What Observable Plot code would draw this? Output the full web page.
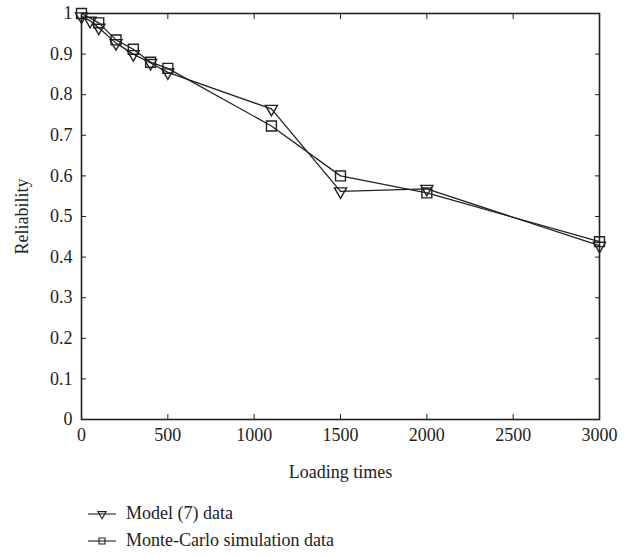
<!DOCTYPE html>
<html>
<head>
<meta charset="utf-8">
<script src="https://cdn.jsdelivr.net/npm/d3@7"></script>
<script src="https://cdn.jsdelivr.net/npm/@observablehq/plot@0.6"></script>
<style>
  body { margin: 0; background: #fff; }
  #wrap { position: relative; width: 633px; height: 557px; font-family: "Liberation Serif", "DejaVu Serif", serif; color: #222; }
  #chart svg { overflow: visible; }
  #chart svg text { font-family: "Liberation Serif", "DejaVu Serif", serif; font-size: 18px; fill: #222; }
  #legend { position: absolute; left: 88px; top: 500px; font-size: 18px; line-height: 27px; }
  .row { display: flex; align-items: center; height: 27px; }
  .row svg { margin-right: 10px; }
</style>
</head>
<body>
<div id="wrap">
  <div id="chart"></div>
  <div id="legend"></div>
</div>
<script>
// Data
const modelLoading = [0, 50, 100, 200, 300, 400, 500, 1100, 1500, 2000, 3000];
const modelReliability = [0.993, 0.982, 0.965, 0.927, 0.900, 0.878, 0.855, 0.765, 0.562, 0.568, 0.428];
const mcLoading = [0, 100, 200, 300, 400, 500, 1100, 1500, 2000, 3000];
const mcReliability = [1.0, 0.977, 0.935, 0.912, 0.880, 0.865, 0.723, 0.600, 0.558, 0.438];
const xTicks = [0, 500, 1000, 1500, 2000, 2500, 3000];
const yTicks = [0, 0.1, 0.2, 0.3, 0.4, 0.5, 0.6, 0.7, 0.8, 0.9, 1];
const seriesNames = ["Model (7) data", "Monte-Carlo simulation data"];

const model = modelLoading.map((x, i) => ({x, y: modelReliability[i]}));
const mc = mcLoading.map((x, i) => ({x, y: mcReliability[i]}));

const ink = "#222";
const blank = () => "";

const chart = Plot.plot({
  width: 633,
  height: 490,
  marginLeft: 81,
  marginRight: 34,
  marginTop: 13,
  marginBottom: 71,
  style: {fontFamily: "Liberation Serif, DejaVu Serif, serif", fontSize: "18px", color: ink, background: "#fff", overflow: "visible"},
  x: {domain: [0, 3000]},
  y: {domain: [0, 1]},
  marks: [
    // inward ticks on all four sides
    Plot.axisX(xTicks, {anchor: "bottom", tickSize: -5, tickFormat: blank, label: null, stroke: ink}),
    Plot.axisX(xTicks, {anchor: "top", tickSize: -5, tickFormat: blank, label: null, stroke: ink}),
    Plot.axisY(yTicks, {anchor: "left", tickSize: -5, tickFormat: blank, label: null, stroke: ink}),
    Plot.axisY(yTicks, {anchor: "right", tickSize: -5, tickFormat: blank, label: null, stroke: ink}),
    // tick labels and axis titles
    Plot.axisX(xTicks, {anchor: "bottom", tickSize: 0, tickPadding: 9, fontSize: 18, tickFormat: d => String(d), label: "Loading times", labelAnchor: "center", labelArrow: "none", labelOffset: 58}),
    Plot.axisY(yTicks, {anchor: "left", tickSize: 0, tickPadding: 9, fontSize: 18, tickFormat: d => String(d), label: "Reliability", labelAnchor: "center", labelArrow: "none", labelOffset: 66}),
    Plot.frame({stroke: ink, strokeWidth: 1.6}),
    // series
    Plot.line(model, {x: "x", y: "y", stroke: ink, strokeWidth: 1.3}),
    Plot.line(mc, {x: "x", y: "y", stroke: ink, strokeWidth: 1.3}),
    Plot.dot(model, {x: "x", y: "y", symbol: "triangle", rotate: 180, r: 4.5, stroke: ink, strokeWidth: 1.4, fill: "none"}),
    Plot.dot(mc, {x: "x", y: "y", symbol: "square", r: 5.6, stroke: ink, strokeWidth: 1.4, fill: "none"})
  ]
});
document.getElementById("chart").appendChild(chart);

// legend
const legend = document.getElementById("legend");
const symbols = [d3.symbol(d3.symbolTriangle, 30)(), d3.symbol(d3.symbolSquare, 36)()];
seriesNames.forEach((name, i) => {
  const row = document.createElement("div");
  row.className = "row";
  const svg = d3.create("svg").attr("width", 28).attr("height", 14);
  svg.append("line").attr("x1", 0).attr("x2", 28).attr("y1", 7).attr("y2", 7).attr("stroke", ink).attr("stroke-width", 1.1);
  svg.append("path").attr("d", symbols[i]).attr("transform", `translate(14,7)${i === 0 ? " rotate(180)" : ""}`)
    .attr("fill", "none").attr("stroke", ink).attr("stroke-width", 1.1);
  row.appendChild(svg.node());
  const span = document.createElement("span");
  span.textContent = name;
  row.appendChild(span);
  legend.appendChild(row);
});
</script>
</body>
</html>
